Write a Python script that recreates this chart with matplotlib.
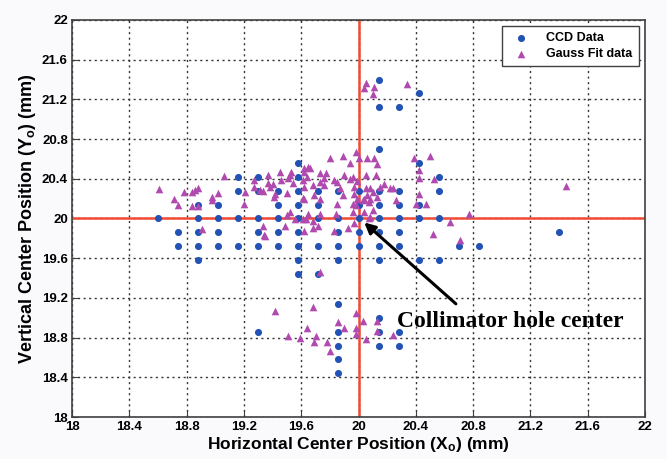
import matplotlib
matplotlib.use('Agg')
import matplotlib.pyplot as plt

plt.rcParams['font.family'] = ['Liberation Sans', 'DejaVu Sans']
plt.rcParams['mathtext.fontset'] = 'custom'
plt.rcParams['mathtext.rm'] = 'Liberation Sans:bold'
plt.rcParams['mathtext.default'] = 'rm'

# CCD data (x, y) in mm
ccd_x = [18.60,
         18.74, 18.74,
         18.88, 18.88, 18.88, 18.88, 18.88,
         19.02, 19.02, 19.02, 19.02,
         19.16, 19.16, 19.16, 19.16,
         19.30, 19.30, 19.30, 19.30, 19.30, 19.30,
         19.44, 19.44, 19.44, 19.44, 19.44,
         19.58, 19.58, 19.58, 19.58, 19.58, 19.58, 19.58, 19.58, 19.58,
         19.72, 19.72, 19.72, 19.72, 19.72,
         19.86, 19.86, 19.86, 19.86, 19.86, 19.86, 19.86, 19.86, 19.86, 19.86,
         20.00, 20.00, 20.00, 20.00, 20.00,
         20.14, 20.14, 20.14, 20.14, 20.14, 20.14, 20.14, 20.14, 20.14, 20.14, 20.14, 20.14,
         20.28, 20.28, 20.28, 20.28, 20.28, 20.28, 20.28, 20.28,
         20.42, 20.42, 20.42, 20.42, 20.42,
         20.56, 20.56, 20.56, 20.56,
         20.70, 20.84, 21.40]
ccd_y = [20.00,
         19.86, 19.72,
         20.14, 20.00, 19.86, 19.72, 19.58,
         20.14, 20.00, 19.86, 19.72,
         20.42, 20.28, 20.00, 19.72,
         20.42, 20.28, 20.00, 19.86, 19.72, 18.86,
         20.28, 20.14, 20.00, 19.86, 19.72,
         20.56, 20.42, 20.28, 20.14, 20.00, 19.86, 19.72, 19.58, 19.44,
         20.28, 20.14, 20.00, 19.72, 19.44,
         20.28, 20.00, 19.86, 19.72, 19.58, 19.14, 18.86, 18.72, 18.58, 18.44,
         20.28, 20.14, 20.00, 19.86, 19.72,
         21.40, 21.12, 20.70, 20.28, 20.14, 20.00, 19.86, 19.72, 19.58, 19.00, 18.86, 18.72,
         21.12, 20.28, 20.14, 20.00, 19.86, 19.72, 18.86, 18.72,
         21.26, 20.56, 20.14, 20.00, 19.58,
         20.42, 20.28, 20.00, 19.58,
         19.72, 19.72, 19.86]

# Gauss fit data (x, y) in mm
gauss_x = [18.61, 18.71, 18.74, 18.78, 18.84, 18.86, 18.88, 18.84, 18.88, 18.98,
           18.98, 19.02, 19.06, 19.20, 19.21, 19.27, 19.27, 19.33, 19.37, 19.40,
           19.41, 19.34, 18.91, 19.33,
           19.37, 19.45, 19.46, 19.51, 19.53, 19.31, 19.50, 19.61, 19.62, 19.65,
           19.61, 19.52, 19.62, 19.66, 19.64, 19.38, 19.42, 19.54, 19.62, 19.68,
           19.73, 19.76, 19.69, 19.73, 19.62,
           19.50, 19.52, 19.56, 19.61, 19.68, 19.73, 19.84, 19.96, 20.07, 19.62,
           19.68, 19.72, 19.83, 19.93, 19.97, 19.49, 19.35, 19.65, 19.63,
           19.80, 19.89, 19.98, 20.00, 20.06, 20.11, 20.13, 19.94, 20.39, 20.50,
           19.73, 19.76, 19.85, 19.89, 19.77, 19.83, 19.90, 19.94, 19.96, 20.12,
           20.18, 20.22, 20.42, 20.42, 20.53, 19.99, 20.05,
           19.87, 19.97, 20.05, 20.08, 20.15, 19.97, 19.99, 20.04, 20.06, 20.08,
           20.13, 20.26, 20.42, 19.85, 19.96, 20.40, 20.47, 20.24, 20.10, 20.03,
           20.07, 19.98, 20.04, 20.10, 20.08,
           20.52, 20.71, 20.64, 20.77, 21.45,
           20.05, 20.04, 20.11, 20.10, 20.34,
           19.73, 19.42, 19.68, 19.51, 19.59, 19.64, 19.70, 19.69, 19.78, 19.80,
           19.86, 19.90, 19.98, 19.98, 19.98, 20.03, 20.05, 20.13, 20.13, 20.24]
gauss_y = [20.30, 20.20, 20.14, 20.27, 20.27, 20.29, 20.31, 20.13, 20.13, 20.22,
           20.19, 20.26, 20.43, 20.15, 20.27, 20.39, 20.32, 20.28, 20.44, 20.35,
           20.22, 19.83, 19.89, 19.92,
           20.36, 20.47, 20.39, 20.41, 20.47, 20.29, 20.26, 20.39, 20.47, 20.52,
           20.21, 20.44, 20.51, 20.51, 20.42, 20.32, 20.25, 20.36, 20.32, 20.34,
           20.37, 20.34, 20.24, 20.20, 20.20,
           20.04, 20.07, 19.99, 19.99, 19.97, 20.05, 20.05, 20.07, 20.00, 19.87,
           19.90, 19.92, 19.87, 19.90, 19.95, 19.92, 19.82, 20.05, 19.99,
           20.61, 20.63, 20.67, 20.61, 20.61, 20.61, 20.55, 20.56, 20.61, 20.63,
           20.46, 20.41, 20.37, 20.24, 20.46, 20.39, 20.44, 20.40, 20.42, 20.44,
           20.35, 20.31, 20.49, 20.41, 20.40, 20.38, 20.44,
           20.31, 20.32, 20.31, 20.31, 20.32, 20.25, 20.20, 20.20, 20.24, 20.20,
           20.22, 20.19, 20.25, 20.15, 20.15, 20.15, 20.15, 20.31, 20.27, 20.19,
           20.17, 20.14, 20.07, 20.09, 20.01,
           19.84, 19.78, 19.96, 20.05, 20.33,
           21.36, 21.31, 21.32, 21.25, 21.35,
           19.46, 19.07, 19.11, 18.82, 18.80, 18.90, 18.82, 18.76, 18.76, 18.66,
           18.96, 18.90, 19.05, 18.90, 18.84, 18.97, 18.79, 18.97, 18.87, 18.83]

ticks = [18, 18.4, 18.8, 19.2, 19.6, 20, 20.4, 20.8, 21.2, 21.6, 22]
tick_labels = ['18', '18.4', '18.8', '19.2', '19.6', '20', '20.4', '20.8', '21.2', '21.6', '22']

fig = plt.figure(figsize=(6.67, 4.59), dpi=100, facecolor='#fafafc')
ax = fig.add_axes([0.108, 0.0915, 0.859, 0.865])
ax.set_facecolor('white')

ax.set_xlim(18, 22)
ax.set_ylim(18, 22)
ax.set_xticks(ticks)
ax.set_yticks(ticks)
ax.set_xticklabels(tick_labels, fontweight='bold', fontsize=9.5)
ax.set_yticklabels(tick_labels, fontweight='bold', fontsize=9.5)
ax.tick_params(direction='in', length=4, color='#404040', pad=3)
ax.grid(True, color='#333333', linestyle=(0, (1.5, 2.5)), linewidth=1.0)
ax.set_axisbelow(True)
for s in ax.spines.values():
    s.set_color('#404040')
    s.set_linewidth(1.2)

# cross-hair at the collimator hole center
ax.axvline(20, color='#f24a33', linewidth=1.8, zorder=1.5)
ax.axhline(20, color='#f24a33', linewidth=1.8, zorder=1.5)

ax.scatter(ccd_x, ccd_y, marker='o', s=26, color='#2352b5', linewidths=0, label='CCD Data', zorder=3)
ax.scatter(gauss_x, gauss_y, marker='^', s=30, color='#b04aae', linewidths=0, label='Gauss Fit data', zorder=3)

leg = ax.legend(loc='upper right', prop={'weight': 'bold', 'size': 9}, fancybox=False,
                edgecolor='#404040', framealpha=1, borderpad=0.5, handletextpad=1.0,
                borderaxespad=0.5, scatterpoints=1, labelspacing=0.3)
leg.get_frame().set_linewidth(1.0)

ax.text(20.27, 18.96, 'Collimator hole center', fontsize=17, fontweight='bold',
        family=['Liberation Serif', 'DejaVu Serif'], va='center', ha='left', zorder=5)
ax.annotate('', xy=(20.04, 19.96), xytext=(20.68, 19.14),
            arrowprops=dict(arrowstyle='-|>', color='black', lw=2.2, mutation_scale=16,
                            shrinkA=0, shrinkB=0), zorder=5)

ax.set_xlabel('Horizontal Center Position (X$_o$) (mm)', fontsize=12.5, fontweight='bold', labelpad=1)
ax.set_ylabel('Vertical Center Position (Y$_o$) (mm)', fontsize=13, fontweight='bold', labelpad=3)

fig.savefig('out.png', dpi=100, facecolor=fig.get_facecolor())
